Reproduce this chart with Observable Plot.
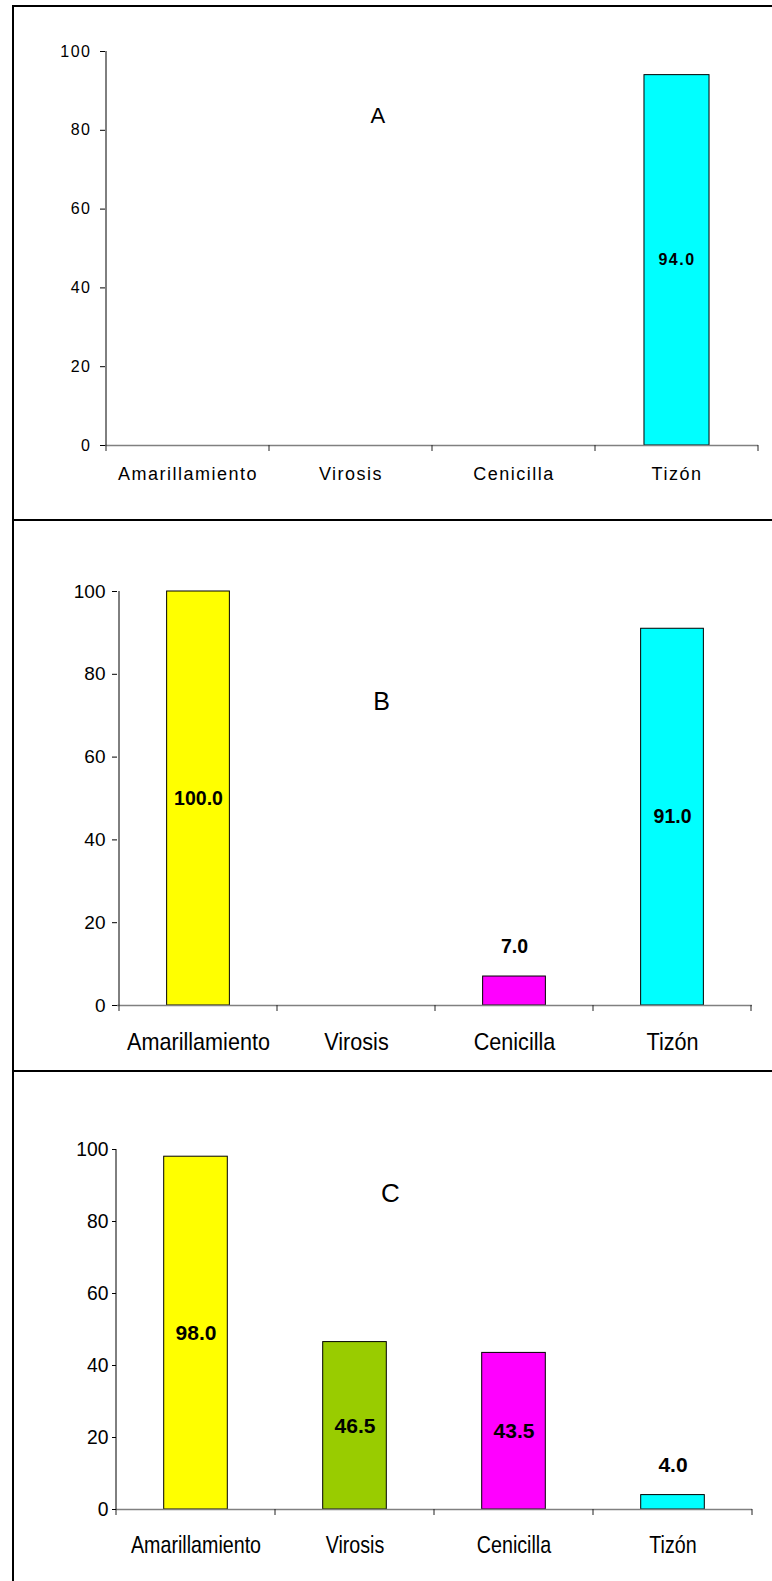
<!DOCTYPE html>
<html>
<head>
<meta charset="utf-8">
<script src="https://cdn.jsdelivr.net/npm/d3@7"></script>
<script src="https://cdn.jsdelivr.net/npm/@observablehq/plot@0.6"></script>
<style>
  html, body { margin: 0; padding: 0; background: #fff; }
  #root { position: relative; width: 772px; height: 1581px; background: #fff; overflow: hidden; }
  .panel { position: absolute; left: 0; }
  .line { position: absolute; background: #000; }
</style>
</head>
<body>
<div id="root">
  <div id="pA" class="panel" style="top:0px"></div>
  <div id="pB" class="panel" style="top:520px"></div>
  <div id="pC" class="panel" style="top:1071px"></div>
  <div class="line" style="left:12px;top:5px;width:2px;height:1576px"></div>
  <div class="line" style="left:12px;top:5px;width:760px;height:2px"></div>
  <div class="line" style="left:12px;top:519px;width:760px;height:2px"></div>
  <div class="line" style="left:12px;top:1070px;width:760px;height:2px"></div>
</div>
<script>
const categories = ["Amarillamiento", "Virosis", "Cenicilla", "Tizón"];
const barColors = ["#FFFF00", "#99CC00", "#FF00FF", "#00FFFF"];
const valuesA = [0, 0, 0, 94.0];
const valuesB = [100.0, 0, 7.0, 91.0];
const valuesC = [98.0, 46.5, 43.5, 4.0];
const yTicks = [0, 20, 40, 60, 80, 100];
const panelLetters = ["A", "B", "C"];

const FONT = "'Liberation Sans', Arial, Helvetica, sans-serif";

function axisLines(index, scales) {
  const {x, y} = scales;
  const g = d3.create("svg:g");
  const y0 = y(0), yTop = y(100);
  const starts = categories.map(c => x(c));
  const step = starts[1] - starts[0];
  const bounds = [...starts, starts[starts.length - 1] + step];
  g.append("line")
    .attr("x1", bounds[0]).attr("x2", bounds[0])
    .attr("y1", yTop).attr("y2", y0)
    .attr("stroke", "black").attr("stroke-width", 1);
  g.selectAll("line.bt").data(bounds).join("line")
    .attr("class", "bt")
    .attr("x1", d => d).attr("x2", d => d)
    .attr("y1", y0).attr("y2", y0 + 6)
    .attr("stroke", "#222").attr("stroke-width", 1);
  return g.node();
}

// horizontally condense text glyphs around their anchor point
function squeeze(svg, selector, sx) {
  if (sx === 1) return;
  const isNum = v => v != null && /^-?[\d.]+$/.test(v.trim());
  svg.querySelectorAll(selector).forEach(t => {
    let tr = t.getAttribute("transform") || "";
    const xa = t.getAttribute("x"), ya = t.getAttribute("y");
    let tx = 0, ty = 0;
    if (isNum(xa)) { tx = +xa; t.removeAttribute("x"); }
    if (isNum(ya)) { ty = +ya; t.removeAttribute("y"); }
    if (tx || ty) tr += ` translate(${tx},${ty})`;
    t.setAttribute("transform", `${tr} scale(${sx},1)`.trim());
  });
}

function makePanel(values, letter, cfg) {
  const rows = categories.map((c, i) => ({cat: c, value: values[i], color: barColors[i]}));
  const shown = rows.filter(d => d.value > 0);
  const step = (772 - cfg.ml - cfg.mr) / categories.length;
  const inset = step * 0.3;
  const svg = Plot.plot({
    width: 772,
    height: cfg.height,
    marginTop: cfg.mt,
    marginBottom: cfg.mb,
    marginLeft: cfg.ml,
    marginRight: cfg.mr,
    style: {fontFamily: FONT, letterSpacing: cfg.ls + "px", background: "transparent", overflow: "visible", color: "black"},
    x: {domain: categories, paddingInner: 0, paddingOuter: 0},
    y: {domain: [0, 100]},
    color: {type: "identity"},
    marks: [
      Plot.barY(shown, {x: "cat", y: "value", fill: "color", stroke: "black", strokeWidth: 1, insetLeft: inset, insetRight: inset}),
      Plot.ruleY([0], {stroke: "#808080", strokeWidth: 1.5}),
      axisLines,
      Plot.axisY({ticks: yTicks, tickSize: cfg.yTick, tickPadding: cfg.yPad, fontSize: cfg.yFont, label: null}),
      Plot.axisX({tickSize: 0, tickPadding: cfg.xPad, fontSize: cfg.xFont, label: null}),
      Plot.text(shown.filter(d => d.value >= 20), {
        x: "cat", y: d => d.value / 2, text: d => d.value.toFixed(1),
        fontWeight: "bold", fontSize: cfg.vFont, fill: "black", ariaLabel: "value label"
      }),
      Plot.text(shown.filter(d => d.value < 20), {
        x: "cat", y: "value", dy: -30, text: d => d.value.toFixed(1),
        fontWeight: "bold", fontSize: cfg.vFont, fill: "black", ariaLabel: "value label"
      }),
      Plot.text([letter], {
        frameAnchor: "top-left", dx: cfg.lx, dy: cfg.ly, text: d => d,
        fontSize: cfg.lFont, fill: "black", textAnchor: "middle", lineAnchor: "middle", ariaLabel: "panel letter"
      })
    ]
  });
  squeeze(svg, 'g[aria-label="x-axis tick label"] text', cfg.xSx);
  squeeze(svg, 'g[aria-label="y-axis tick label"] text', cfg.ySx);
  squeeze(svg, 'g[aria-label="value label"] text', cfg.vSx);
  squeeze(svg, 'g[aria-label="panel letter"] text', cfg.lSx);
  return svg;
}

document.getElementById("pA").append(makePanel(valuesA, panelLetters[0], {
  height: 520, mt: 51, mb: 75, ml: 105, mr: 14, ls: 1.5,
  yTick: 5, yPad: 9, yFont: 16, ySx: 1,
  xPad: 22, xFont: 18, xSx: 1,
  vFont: 16, vSx: 1,
  lFont: 22, lSx: 1, lx: 273, ly: 64
}));
document.getElementById("pB").append(makePanel(valuesB, panelLetters[1], {
  height: 551, mt: 71, mb: 66, ml: 117, mr: 20, ls: 0,
  yTick: 5, yPad: 7, yFont: 19, ySx: 1,
  xPad: 27, xFont: 24, xSx: 0.9,
  vFont: 19.5, vSx: 0.92,
  lFont: 25, lSx: 0.95, lx: 264, ly: 110
}));
document.getElementById("pC").append(makePanel(valuesC, panelLetters[2], {
  height: 510, mt: 78, mb: 72, ml: 116, mr: 20, ls: 0,
  yTick: 4, yPad: 4, yFont: 21, ySx: 0.92,
  xPad: 26, xFont: 24, xSx: 0.82,
  vFont: 21, vSx: 0.86,
  lFont: 26, lSx: 0.9, lx: 274, ly: 44
}));
</script>
</body>
</html>
